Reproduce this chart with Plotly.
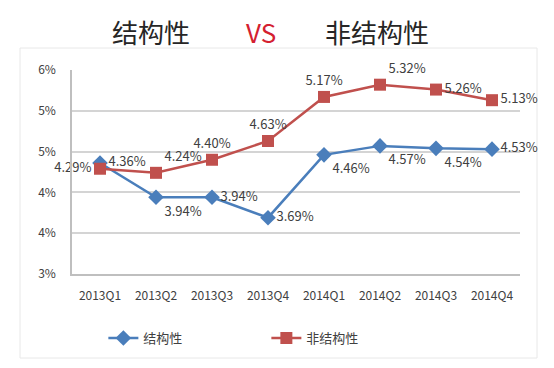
import plotly.graph_objects as go

categories = ["2013Q1", "2013Q2", "2013Q3", "2013Q4", "2014Q1", "2014Q2", "2014Q3", "2014Q4"]
structural = [4.36, 3.94, 3.94, 3.69, 4.46, 4.57, 4.54, 4.53]
non_structural = [4.29, 4.24, 4.40, 4.63, 5.17, 5.32, 5.26, 5.13]
y_tick_vals = [3.0, 3.5, 4.0, 4.5, 5.0, 5.5]
y_tick_text = ["3%", "4%", "4%", "5%", "5%", "6%"]
series_names = ["结构性", "非结构性"]

BLUE = "#4A7EBB"
RED = "#C0504D"
FONT = "Noto Sans CJK SC"

blue_pos = ["middle right", "bottom right", "middle right", "middle right",
            "bottom right", "bottom right", "bottom right", "middle right"]
red_pos = ["middle left", "top right", "top center", "top center",
           "top center", "top right", "middle right", "middle right"]

fig = go.Figure()
fig.add_trace(go.Scatter(
    x=categories, y=structural, name=series_names[0], mode="lines+markers+text",
    line=dict(color=BLUE, width=2.5),
    marker=dict(symbol="diamond", size=12, color=BLUE),
    text=[f"{v:.2f}%" for v in structural], textposition=blue_pos,
    textfont=dict(family=FONT, size=13, color="#404040"),
    cliponaxis=False,
))
fig.add_trace(go.Scatter(
    x=categories, y=non_structural, name=series_names[1], mode="lines+markers+text",
    line=dict(color=RED, width=2.5),
    marker=dict(symbol="square", size=12, color=RED),
    text=[f"{v:.2f}%" for v in non_structural], textposition=red_pos,
    textfont=dict(family=FONT, size=13, color="#404040"),
    cliponaxis=False,
))

# Title parts (reference pixel coords converted to paper fractions; plot spans x 72..520, y 70..274)
def px(xp):
    return (xp - 72) / 448

def py(yp):
    return (274 - yp) / 204

title_y = py(31)
for txt, cx, col in [("结构性", 151, "#262626"), ("VS", 261, "#D42030"), ("非结构性", 377, "#262626")]:
    fig.add_annotation(text=txt, xref="paper", yref="paper", x=px(cx), y=title_y,
                       xanchor="center", yanchor="middle",
                       showarrow=False, font=dict(family=FONT, size=26, color=col))

fig.add_shape(type="rect", xref="paper", yref="paper",
              x0=px(20), x1=px(537), y0=py(358), y1=py(48),
              line=dict(color="#E8E8E8", width=1), layer="below")

fig.update_layout(
    width=546, height=360,
    margin=dict(l=64, r=34, t=62, b=94),
    paper_bgcolor="white", plot_bgcolor="white",
    font=dict(family=FONT, color="#404040"),
    showlegend=True,
    legend=dict(orientation="h", x=0.07, y=py(338), xanchor="left", yanchor="middle",
                entrywidth=118, entrywidthmode="pixels",
                font=dict(family=FONT, size=13, color="#404040"), itemwidth=30),
    xaxis=dict(showgrid=False, showline=True, linecolor="#BFBFBF", linewidth=1.5,
               ticks="", ticklabelstandoff=10,
               tickfont=dict(family=FONT, size=12, color="#404040"),
               range=[-0.5, 7.5]),
    yaxis=dict(range=[3.0, 5.5], tickvals=y_tick_vals, ticktext=y_tick_text,
               showgrid=True, gridcolor="#D4D4D4", gridwidth=1.5,
               showline=True, linecolor="#BFBFBF", linewidth=1.5,
               zeroline=False, ticks="", ticklabelstandoff=12,
               tickfont=dict(family=FONT, size=12, color="#404040")),
)

fig.write_html("out.html")
